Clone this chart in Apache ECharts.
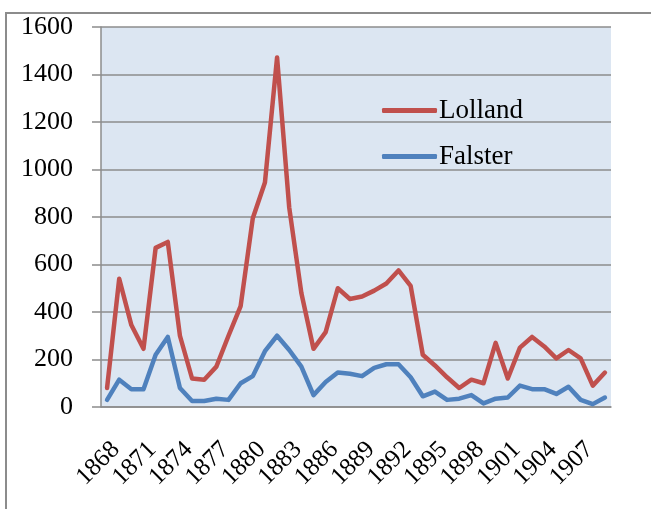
<!DOCTYPE html>
<html>
<head>
<meta charset="utf-8">
<script src="https://cdn.jsdelivr.net/npm/echarts@6/dist/echarts.min.js"></script>
<style>
  html, body { margin: 0; padding: 0; background: #fff; overflow: hidden; }
  #frame { position: absolute; left: 5px; top: 12px; width: 700px; height: 600px; border: 2px solid #8c8c8c; }
  #chart { position: absolute; left: 0; top: 0; width: 651px; height: 509px; }
</style>
</head>
<body>
<div id="frame"></div>
<div id="chart"></div>
<script>
// years 1868..1909
const years = [
  '1868', '1869', '1870', '1871', '1872', '1873', '1874', '1875', '1876', '1877',
  '1878', '1879', '1880', '1881', '1882', '1883', '1884', '1885', '1886', '1887',
  '1888', '1889', '1890', '1891', '1892', '1893', '1894', '1895', '1896', '1897',
  '1898', '1899', '1900', '1901', '1902', '1903', '1904', '1905', '1906', '1907',
  '1908', '1909'
];

const lolland = [
  80, 540, 345, 245, 670, 695, 300, 120, 115, 170,
  300, 425, 795, 945, 1472, 840, 480, 245, 315, 500,
  455, 465, 490, 520, 575, 510, 220, 175, 125, 80,
  115, 100, 270, 120, 250, 295, 255, 205, 240, 205,
  90, 145
];

const falster = [
  30, 115, 75, 75, 220, 295, 80, 25, 25, 35,
  30, 100, 130, 235, 300, 240, 170, 50, 105, 145,
  140, 130, 165, 180, 180, 125, 45, 65, 30, 35,
  50, 15, 35, 40, 90, 75, 75, 55, 85, 30,
  12, 40
];

const serif = "'Liberation Serif', 'Times New Roman', serif";

const chart = echarts.init(document.getElementById('chart'));

chart.setOption({
  animation: false,
  grid: {
    left: 101, right: 40, top: 27, bottom: 102,
    show: true,
    backgroundColor: '#dce6f2',
    borderWidth: 0
  },
  legend: {
    orient: 'vertical',
    left: 377,
    top: 92,
    itemWidth: 55,
    itemHeight: 5,
    itemGap: 19,
    icon: 'roundRect',
    textStyle: { fontFamily: serif, fontSize: 27, color: '#000', padding: [0, 0, 0, -3] },
    data: ['Lolland', 'Falster']
  },
  xAxis: {
    type: 'category',
    data: years,
    boundaryGap: true,
    axisLine: { lineStyle: { color: '#8c8c8c', width: 1.5 } },
    axisTick: { interval: 0, length: 7, lineStyle: { color: '#8c8c8c', width: 1.5 } },
    axisLabel: {
      interval: 2,
      rotate: 45,
      margin: 30,
      verticalAlign: 'top',
      fontFamily: serif,
      fontSize: 25,
      color: '#000'
    },
    splitLine: { show: false }
  },
  yAxis: {
    type: 'value',
    min: 0,
    max: 1600,
    interval: 200,
    axisLine: { show: true, lineStyle: { color: '#8c8c8c', width: 1.5 } },
    axisTick: { show: true, length: 9, lineStyle: { color: '#8c8c8c', width: 1.5 } },
    axisLabel: {
      margin: 28,
      fontFamily: serif,
      fontSize: 26,
      color: '#000',
      formatter: v => String(v)
    },
    splitLine: { lineStyle: { color: '#8c8c8c', width: 1.5 } }
  },
  series: [
    {
      name: 'Lolland',
      type: 'line',
      data: lolland,
      symbol: 'none',
      color: '#c0504d',
      lineStyle: { width: 4.5, join: 'round', cap: 'round' }
    },
    {
      name: 'Falster',
      type: 'line',
      data: falster,
      symbol: 'none',
      color: '#4f81bd',
      lineStyle: { width: 4.5, join: 'round', cap: 'round' }
    }
  ]
});
</script>
</body>
</html>
